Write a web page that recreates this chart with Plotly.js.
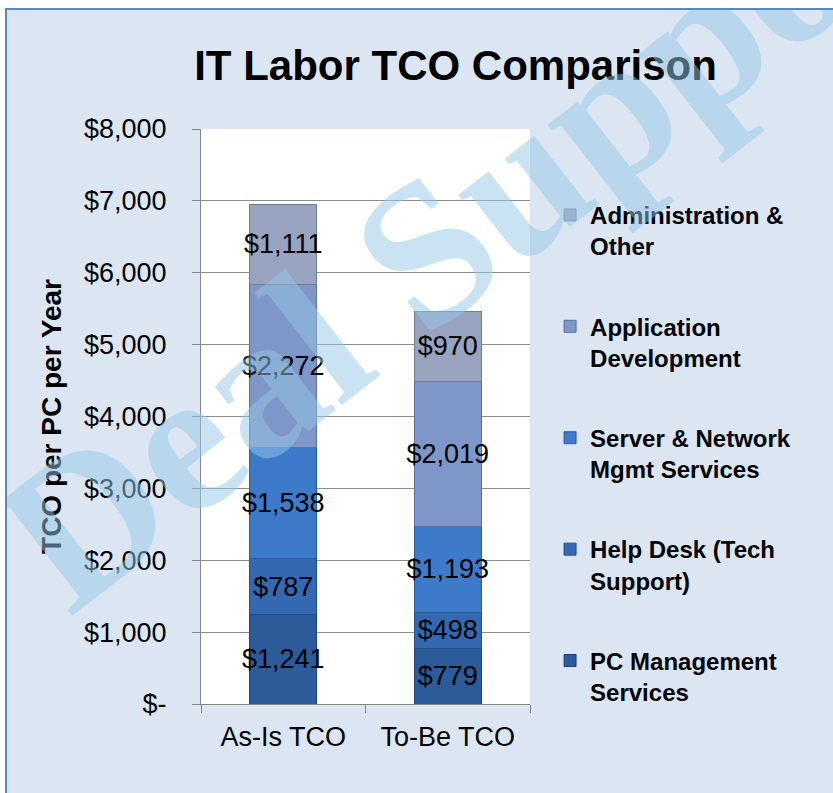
<!DOCTYPE html>
<html>
<head>
<meta charset="utf-8">
<script src="https://cdn.plot.ly/plotly-3.0.1.min.js"></script>
<style>
  html, body { margin: 0; padding: 0; background: #ffffff; width: 833px; height: 793px; overflow: hidden; }
  #frame { position: absolute; left: 5px; top: 8px; width: 830px; height: 790px;
           border-left: 2px solid #5b86c5; border-top: 2px solid #5b86c5; background: #dce6f2; }
  #chart { position: absolute; left: 0; top: 0; width: 826px; height: 783px; }
</style>
</head>
<body>
<div id="frame"><div id="chart"></div></div>
<script>
// ---- data ----
const categories = ['As-Is TCO', 'To-Be TCO'];
const seriesNames = [
  'PC Management<br>Services',
  'Help Desk (Tech<br>Support)',
  'Server & Network<br>Mgmt Services',
  'Application<br>Development',
  'Administration &<br>Other'
];
const pcManagement   = [1241, 779];
const helpDesk       = [787, 498];
const serverNetwork  = [1538, 1193];
const appDevelopment = [2272, 2019];
const adminOther     = [1111, 970];
const yTickVals  = [0, 1000, 2000, 3000, 4000, 5000, 6000, 7000, 8000];
const yTickText  = ['$-', '$1,000', '$2,000', '$3,000', '$4,000', '$5,000', '$6,000', '$7,000', '$8,000'];

// ---- styling ----
const seriesValues = [pcManagement, helpDesk, serverNetwork, appDevelopment, adminOther];
const colors = ['#2d5a98', '#3468b0', '#3d7bca', '#7f96c9', '#98a3c0'];
const lineColors = ['#1f4275', '#244e88', '#2a5d9e', '#5c6f9c', '#717c98'];
const FONT = 'Liberation Sans, Arial, Helvetica, sans-serif';

function fmt(v) { return '$' + v.toLocaleString('en-US'); }

const traces = seriesValues.map((vals, i) => ({
  type: 'bar',
  name: seriesNames[i],
  x: categories,
  y: vals,
  text: vals.map(fmt),
  textposition: 'inside',
  insidetextanchor: 'middle',
  textangle: 0,
  constraintext: 'none',
  textfont: { family: FONT, size: 27, color: '#000000' },
  width: 0.41,
  marker: { color: colors[i], line: { color: lineColors[i], width: 1 } },
  legendgroup: 'g' + i,
  legendrank: seriesValues.length - i,
  hoverinfo: 'none'
}));

const layout = {
  width: 826,
  height: 783,
  barmode: 'stack',
  paper_bgcolor: '#dce6f2',
  plot_bgcolor: '#ffffff',
  margin: { l: 194, r: 303, t: 119, b: 89 },
  font: { family: FONT, color: '#000000' },
  title: {
    text: '<b>IT Labor TCO Comparison</b>',
    font: { family: FONT, size: 42, color: '#000000' },
    x: 0.543, xanchor: 'center',
    y: 0.93, yanchor: 'middle'
  },
  xaxis: {
    type: 'category',
    showline: true, linecolor: '#868686', linewidth: 1,
    ticks: 'outside', tickson: 'boundaries', ticklen: 8, tickcolor: '#868686',
    tickfont: { family: FONT, size: 27, color: '#000000' },
    ticklabelstandoff: 9,
    showgrid: false
  },
  yaxis: {
    range: [0, 8000],
    tickvals: yTickVals, ticktext: yTickText,
    showline: true, linecolor: '#868686', linewidth: 1,
    ticks: 'outside', ticklen: 8, tickcolor: '#868686',
    tickfont: { family: FONT, size: 27, color: '#000000' },
    ticklabelstandoff: 20,
    gridcolor: '#8c8c8c', gridwidth: 1,
    zeroline: false,
    title: { text: '<b>TCO per PC per Year</b>', font: { family: FONT, size: 28, color: '#000000' }, standoff: 14 }
  },
  legend: {
    x: 1.061, xanchor: 'left',
    y: 0.889, yanchor: 'top',
    valign: 'top',
    traceorder: 'grouped',
    tracegroupgap: 46,
    bgcolor: 'rgba(0,0,0,0)',
    font: { family: FONT, size: 24, color: '#000000', weight: 'bold' }
  },
  annotations: [{
    text: '<b>Deal Support</b>',
    xref: 'paper', yref: 'paper',
    x: 0.87, y: 0.87,
    xanchor: 'center', yanchor: 'middle',
    showarrow: false,
    textangle: -38,
    font: { family: 'Liberation Serif, Times New Roman, serif', size: 205, color: 'rgba(150,200,230,0.5)' }
  }]
};

Plotly.newPlot('chart', traces, layout, { staticPlot: true, displayModeBar: false });
</script>
</body>
</html>
